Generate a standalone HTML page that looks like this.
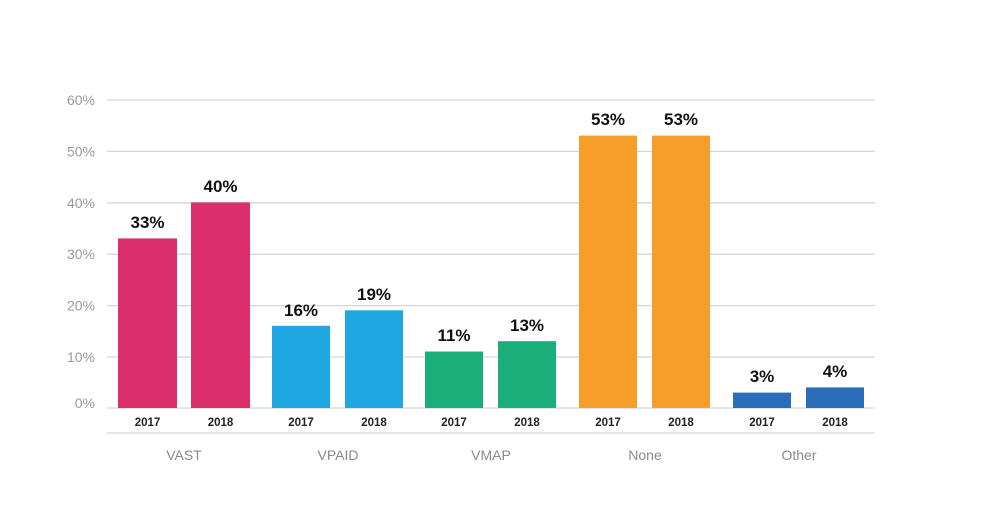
<!DOCTYPE html>
<html><head><meta charset="utf-8"><style>
html,body{margin:0;padding:0;background:#fff;}
svg{display:block;font-family:"Liberation Sans",sans-serif;}
</style></head><body>
<svg width="1006" height="526" viewBox="0 0 1006 526">
<g stroke="#d6d6d6" stroke-width="1.3">
<line x1="107" y1="100" x2="875" y2="100"/>
<line x1="107" y1="151.4" x2="875" y2="151.4"/>
<line x1="107" y1="202.8" x2="875" y2="202.8"/>
<line x1="107" y1="254.2" x2="875" y2="254.2"/>
<line x1="107" y1="305.6" x2="875" y2="305.6"/>
<line x1="107" y1="357" x2="875" y2="357"/>
<line x1="107" y1="408" x2="875" y2="408"/>
<line x1="107" y1="433" x2="875" y2="433"/>
</g>
<g fill="#9a9a9a" font-size="14" text-anchor="end">
<text x="95" y="105">60%</text>
<text x="95" y="156.4">50%</text>
<text x="95" y="207.8">40%</text>
<text x="95" y="259.2">30%</text>
<text x="95" y="310.6">20%</text>
<text x="95" y="362">10%</text>
<text x="95" y="408">0%</text>
</g>
<g>
<rect x="118" y="238.4" width="59" height="169.6" fill="#db2f6c"/>
<rect x="191" y="202.4" width="59" height="205.6" fill="#db2f6c"/>
<rect x="272" y="325.8" width="58" height="82.2" fill="#1ea7e1"/>
<rect x="345" y="310.3" width="58" height="97.7" fill="#1ea7e1"/>
<rect x="425" y="351.5" width="58" height="56.5" fill="#1aae7a"/>
<rect x="498" y="341.2" width="58" height="66.8" fill="#1aae7a"/>
<rect x="579" y="135.6" width="58" height="272.4" fill="#f79d2a"/>
<rect x="652" y="135.6" width="58" height="272.4" fill="#f79d2a"/>
<rect x="733" y="392.6" width="58" height="15.4" fill="#2a6eb9"/>
<rect x="806" y="387.4" width="58" height="20.6" fill="#2a6eb9"/>
</g>
<g fill="#111" font-size="17" font-weight="bold" text-anchor="middle">
<text x="147.5" y="228">33%</text>
<text x="220.5" y="192">40%</text>
<text x="301" y="316">16%</text>
<text x="374" y="300">19%</text>
<text x="454" y="341">11%</text>
<text x="527" y="331">13%</text>
<text x="608" y="125">53%</text>
<text x="681" y="125">53%</text>
<text x="762" y="382">3%</text>
<text x="835" y="377">4%</text>
</g>
<g fill="#222" font-size="11.5" font-weight="bold" text-anchor="middle">
<text x="147.5" y="426">2017</text><text x="220.5" y="426">2018</text>
<text x="301" y="426">2017</text><text x="374" y="426">2018</text>
<text x="454" y="426">2017</text><text x="527" y="426">2018</text>
<text x="608" y="426">2017</text><text x="681" y="426">2018</text>
<text x="762" y="426">2017</text><text x="835" y="426">2018</text>
</g>
<g fill="#8a8a8a" font-size="14" text-anchor="middle">
<text x="184" y="460">VAST</text>
<text x="338" y="460">VPAID</text>
<text x="491" y="460">VMAP</text>
<text x="645" y="460">None</text>
<text x="799" y="460">Other</text>
</g>
</svg>
</body></html>
